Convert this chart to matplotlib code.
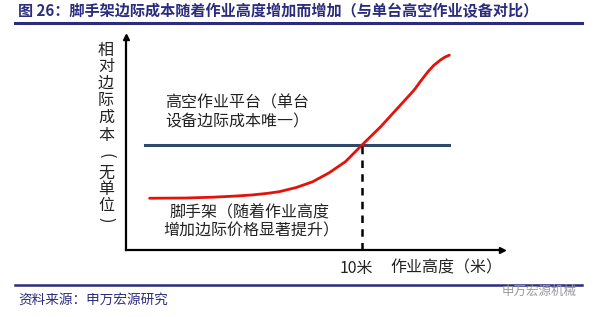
import matplotlib
matplotlib.use('Agg')
import matplotlib.pyplot as plt
from matplotlib.lines import Line2D

plt.rcParams['font.family'] = ['Noto Sans CJK SC', 'DejaVu Sans']

# data (x: height in m, y: relative marginal cost)
scaffold_x = [1.0, 2.5, 3.7, 4.6, 5.3, 6.0, 6.5, 7.2, 7.9, 8.6, 9.3, 10.0,
              10.8, 11.5, 12.2, 12.5, 12.8, 13.05, 13.3, 13.5, 13.7]
scaffold_y = [2.43, 2.44, 2.48, 2.53, 2.58, 2.66, 2.74, 2.93, 3.2, 3.62, 4.15, 4.93,
              5.8, 6.65, 7.5, 7.95, 8.38, 8.68, 8.9, 9.05, 9.15]
platform_x = [0.8, 13.7]
platform_y = [4.93, 4.93]
cross_x = 10.0
cross_y = 4.93

title = '图 26：脚手架边际成本随着作业高度增加而增加（与单台高空作业设备对比）'
source = '资料来源：申万宏源研究'
ylabel_chars = list('相对边际成本') + ['(', '无', '单', '位', ')']

W, H = 595, 317
navy = '#2c2c7e'
ink = '#222222'

fig = plt.figure(figsize=(W / 100, H / 100), dpi=100)

def px(x, y):
    return x / W, 1 - y / H

# header / footer rules
fig.add_artist(Line2D([15 / W, 582 / W], [1 - 23 / H, 1 - 23 / H], color=navy, lw=2.2))
fig.add_artist(Line2D([15 / W, 582 / W], [1 - 285 / H, 1 - 285 / H], color=navy, lw=1.8))
fig.text(*px(18, 11), title, color=navy, fontsize=10.9, fontweight='bold', va='center', ha='left')
fig.text(*px(18, 300), source, color=navy, fontsize=9.8, va='center', ha='left')
fig.text(*px(577, 291), '申万宏源机械', color='#9a9a9a', fontsize=9, va='center', ha='right')

# main axes
l, r, t, b = 126, 502, 37, 250
ax = fig.add_axes([l / W, 1 - b / H, (r - l) / W, (b - t) / H])
ax.set_xlim(0, 15.93)
ax.set_ylim(0, 10)
for s in ['top', 'right']:
    ax.spines[s].set_visible(False)
for s in ['left', 'bottom']:
    ax.spines[s].set_linewidth(1.6)
ax.set_xticks([])
ax.set_yticks([])
ax.patch.set_alpha(0)

ax.plot(1, 0, '>k', ms=5, transform=ax.get_yaxis_transform(), clip_on=False)
ax.plot(0, 1, '^k', ms=5, transform=ax.get_xaxis_transform(), clip_on=False)

ax.plot(platform_x, platform_y, color='#2f4a68', lw=2.2)
ax.plot(scaffold_x, scaffold_y, color='#e3120b', lw=2.0, solid_capstyle='round',
        solid_joinstyle='round')
ax.plot([cross_x, cross_x], [0, cross_y], color='black', lw=1.8, ls=(0, (3, 2.5)))

# annotations
fs = 11.5
fig.text(*px(165, 103), '高空作业平台（单台', fontsize=fs, va='center', ha='left', color=ink)
fig.text(*px(165, 122), '设备边际成本唯一）', fontsize=fs, va='center', ha='left', color=ink)
fig.text(*px(170, 213), '脚手架（随着作业高度', fontsize=fs, va='center', ha='left', color=ink)
fig.text(*px(163, 231), '增加边际价格显著提升）', fontsize=fs, va='center', ha='left', color=ink)
fig.text(*px(340, 268), '10米', fontsize=fs, va='center', ha='left', color=ink)
fig.text(*px(390, 268), '作业高度（米）', fontsize=fs, va='center', ha='left', color=ink)

# vertical y label, one character per row
label_rows = [50, 66.7, 83.3, 100.5, 117.5, 135.5, 156, 173, 189.5, 205.5, 220]
for ch, yy in zip(ylabel_chars, label_rows):
    rot = -90 if ch in '()' else 0
    fig.text(*px(106, yy), ch, fontsize=fs, va='center', ha='center',
             color=ink, rotation=rot)

fig.savefig('out.png', dpi=100)
